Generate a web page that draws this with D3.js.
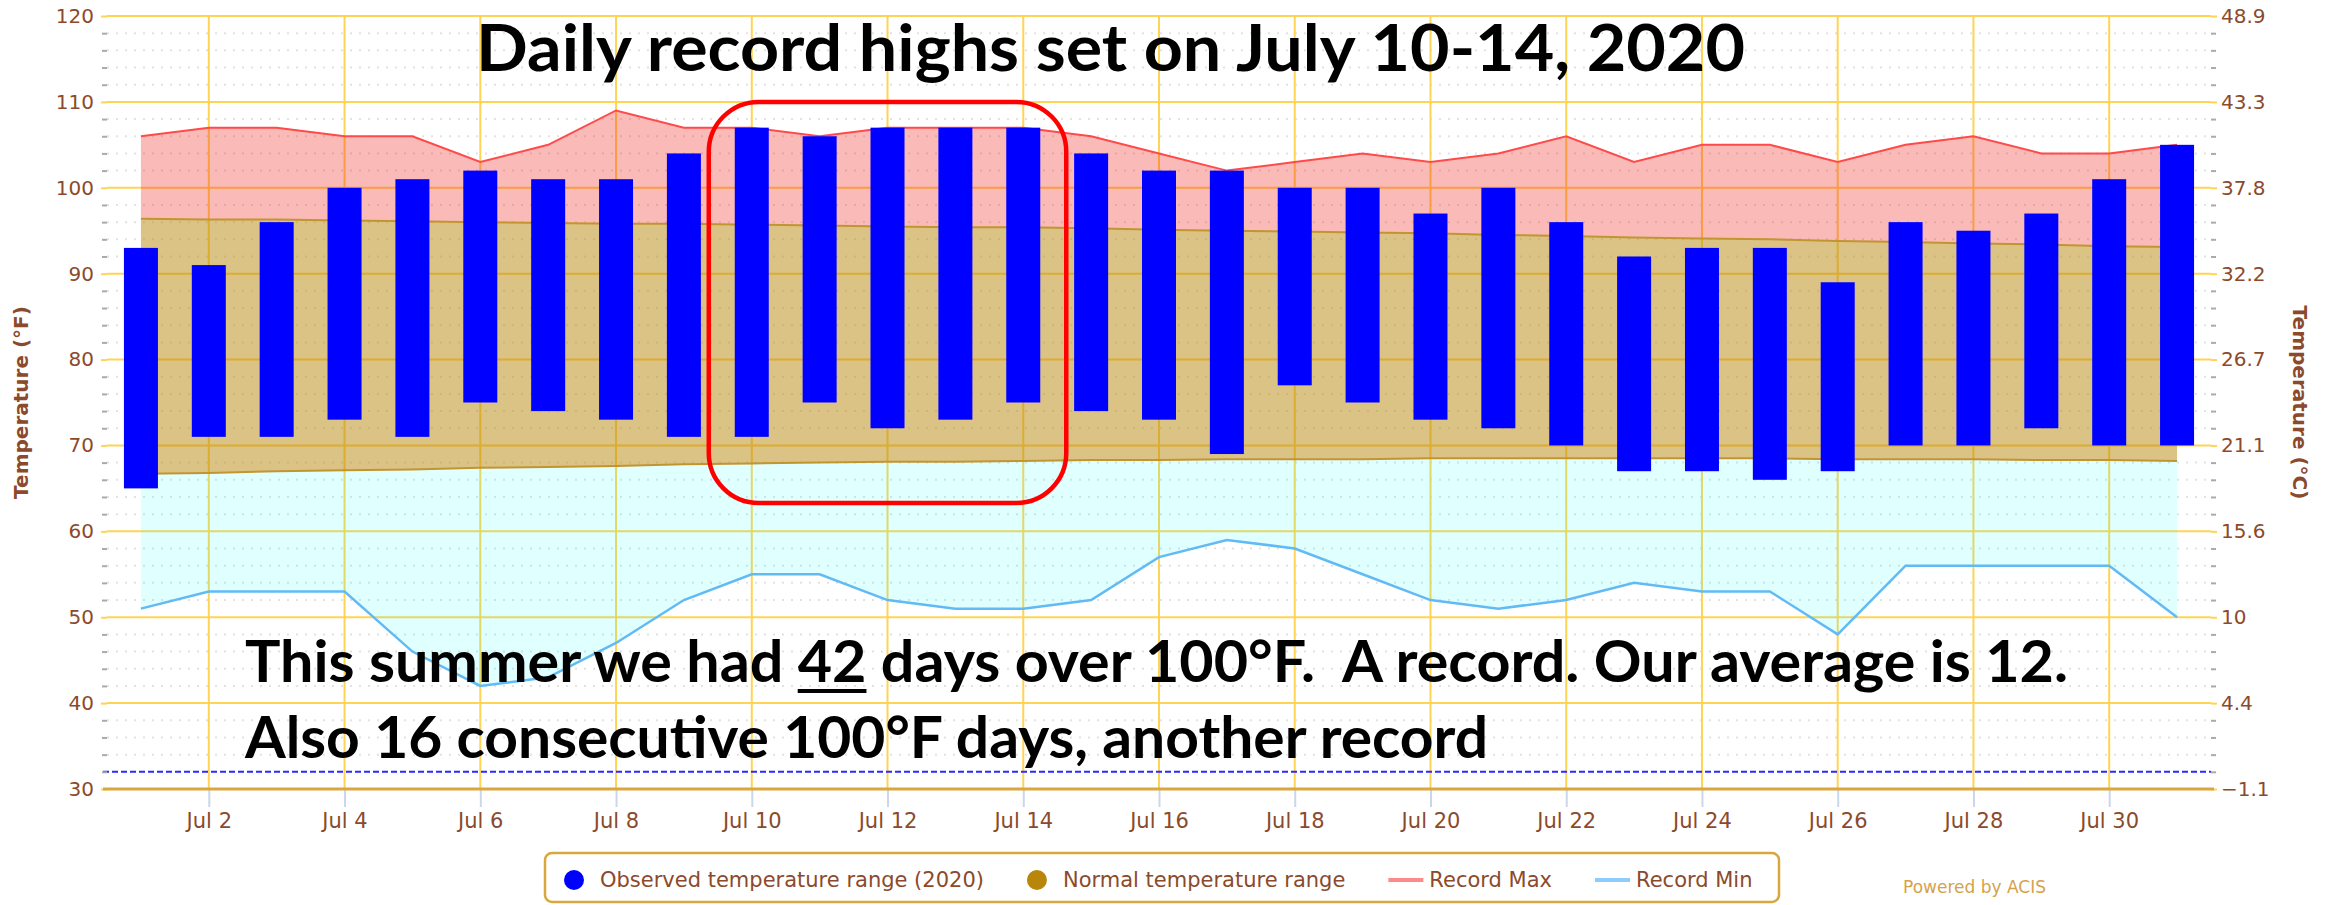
<!DOCTYPE html>
<html>
<head>
<meta charset="utf-8">
<script src="https://cdn.jsdelivr.net/npm/d3@7"></script>
<style>
  html, body { margin: 0; padding: 0; background: #fff; }
  svg { display: block; }
</style>
</head>
<body>
<svg id="chart"></svg>
<script>
// July 2020, one value per day
const days = [1, 2, 3, 4, 5, 6, 7, 8, 9, 10, 11, 12, 13, 14, 15, 16, 17, 18, 19, 20, 21, 22, 23, 24, 25, 26, 27, 28, 29, 30, 31]
const obsHigh = [93, 91, 96, 100, 101, 102, 101, 101, 104, 107, 106, 107, 107, 107, 104, 102, 102, 100, 100, 97, 100, 96, 92, 93, 93, 89, 96, 95, 97, 101, 105]
const obsLow = [65, 71, 71, 73, 71, 75, 74, 73, 71, 71, 75, 72, 73, 75, 74, 73, 69, 77, 75, 73, 72, 70, 67, 67, 66, 67, 70, 70, 72, 70, 70]
const normHigh = [96.4, 96.3, 96.3, 96.2, 96.1, 96.0, 95.9, 95.8, 95.8, 95.7, 95.6, 95.5, 95.4, 95.4, 95.3, 95.1, 95.0, 94.9, 94.8, 94.7, 94.5, 94.4, 94.2, 94.1, 94.0, 93.8, 93.7, 93.5, 93.4, 93.2, 93.1]
const normLow = [66.7, 66.8, 67.0, 67.1, 67.2, 67.4, 67.5, 67.6, 67.8, 67.9, 68.0, 68.1, 68.1, 68.2, 68.3, 68.3, 68.4, 68.4, 68.4, 68.5, 68.5, 68.5, 68.5, 68.5, 68.5, 68.4, 68.4, 68.4, 68.3, 68.3, 68.2]
const recMax = [106, 107, 107, 106, 106, 103, 105, 109, 107, 107, 106, 107, 107, 107, 106, 104, 102, 103, 104, 103, 104, 106, 103, 105, 105, 103, 105, 106, 104, 104, 105]
const recMin = [51, 53, 53, 53, 46, 42, 43, 47, 52, 55, 55, 52, 51, 51, 52, 57, 59, 58, 55, 52, 51, 52, 54, 53, 53, 48, 56, 56, 56, 56, 50]

const tickDays = [2, 4, 6, 8, 10, 12, 14, 16, 18, 20, 22, 24, 26, 28, 30]
const ticksF = [30, 40, 50, 60, 70, 80, 90, 100, 110, 120]
const freezing = 32
const recordDays = [10, 14]

const title = 'Daily record highs set on July 10-14, 2020'
const note1 = 'This summer we had 42 days over 100°F.  A record. Our average is 12.'
const note2 = 'Also 16 consecutive 100°F days, another record'
const legendItems = [
	{ label: 'Observed temperature range (2020)', kind: 'dot', color: '#0000ff' },
	{ label: 'Normal temperature range', kind: 'dot', color: '#b8860b' },
	{ label: 'Record Max', kind: 'line', color: '#ff8a8a' },
	{ label: 'Record Min', kind: 'line', color: '#8ccdfb' }
]

const brown = '#8b4a2b'
const gold = '#ffd454'
const axisGold = '#d9a73e'
const labelFont = 'DejaVu Sans, sans-serif'

const rows = days.map((d, i) => ({
	day: new Date(Date.UTC(2020, 6, d)),
	hi: obsHigh[i], lo: obsLow[i],
	nHi: normHigh[i], nLo: normLow[i],
	rMax: recMax[i], rMin: recMin[i]
}))
const dayDate = d => new Date(Date.UTC(2020, 6, d))

const svg = d3.select('#chart').attr('width', 2336).attr('height', 905)

// plot box
const pL = 107, pR = 2211, pT = 16, pB = 789

const x = d3.scaleUtc()
	.domain([new Date(Date.UTC(2020, 5, 30, 12)), new Date(Date.UTC(2020, 6, 31, 12))])
	.range([pL, pR])
const y = d3.scaleLinear().domain([30, 120]).range([pB, pT])
const yC = d3.scaleLinear().domain(y.domain().map(f => (f - 32) * 5 / 9)).range(y.range())

// minor grid every 2 degrees
const minorF = d3.range(30, 121, 2).filter(v => v % 10 !== 0)

let grid = svg.append('g')
grid.selectAll('.minor').data(minorF).enter().append('line')
	.attr('x1', pL).attr('x2', pR)
	.attr('y1', d => y(d)).attr('y2', d => y(d))
	.attr('stroke', '#e2e2e2').attr('stroke-width', 2)
	.attr('stroke-dasharray', '2,7')

grid.selectAll('.major').data(ticksF.filter(v => v !== 30)).enter().append('line')
	.attr('x1', pL).attr('x2', pR)
	.attr('y1', d => y(d)).attr('y2', d => y(d))
	.attr('stroke', gold).attr('stroke-width', 2)

grid.selectAll('.vgrid').data(tickDays).enter().append('line')
	.attr('x1', d => x(dayDate(d))).attr('x2', d => x(dayDate(d)))
	.attr('y1', pT).attr('y2', pB)
	.attr('stroke', gold).attr('stroke-width', 2)

// shaded ranges
const band = (lo, hi) => d3.area().x(d => x(d.day)).y0(d => y(lo(d))).y1(d => y(hi(d)))
const edge = acc => d3.line().x(d => x(d.day)).y(d => y(acc(d)))

svg.append('path').datum(rows)
	.attr('d', band(d => d.rMin, d => d.nLo))
	.attr('fill', 'rgb(0,255,255)').attr('fill-opacity', 0.12)
svg.append('path').datum(rows)
	.attr('d', band(d => d.nHi, d => d.rMax))
	.attr('fill', 'rgb(240,30,20)').attr('fill-opacity', 0.3)
svg.append('path').datum(rows)
	.attr('d', band(d => d.nLo, d => d.nHi))
	.attr('fill', '#b8860b').attr('fill-opacity', 0.5)

svg.append('path').datum(rows).attr('d', edge(d => d.nHi))
	.attr('fill', 'none').attr('stroke', '#c29530').attr('stroke-width', 2)
svg.append('path').datum(rows).attr('d', edge(d => d.nLo))
	.attr('fill', 'none').attr('stroke', '#c29530').attr('stroke-width', 2)
svg.append('path').datum(rows).attr('d', edge(d => d.rMax))
	.attr('fill', 'none').attr('stroke', '#ff4a4a').attr('stroke-width', 2)
svg.append('path').datum(rows).attr('d', edge(d => d.rMin))
	.attr('fill', 'none').attr('stroke', '#62baf5').attr('stroke-width', 2.5)

// freezing plot line
svg.append('line')
	.attr('x1', pL - 4).attr('x2', pR)
	.attr('y1', y(freezing)).attr('y2', y(freezing))
	.attr('stroke', '#2b2bff').attr('stroke-width', 2)
	.attr('stroke-dasharray', '6,3')

// axes
let axL = svg.append('g').attr('transform', `translate(${pL},0)`)
	.call(d3.axisLeft(y).tickValues(ticksF).tickSize(6).tickPadding(7))
let axLm = svg.append('g').attr('transform', `translate(${pL},0)`)
	.call(d3.axisLeft(y).tickValues(minorF).tickSize(5).tickFormat(''))
let axR = svg.append('g').attr('transform', `translate(${pR},0)`)
	.call(d3.axisRight(yC).tickValues(ticksF.map(f => (f - 32) * 5 / 9)).tickSize(6).tickPadding(4)
		.tickFormat(d3.format('.1~f')))
let axRm = svg.append('g').attr('transform', `translate(${pR},0)`)
	.call(d3.axisRight(yC).tickValues(minorF.map(f => (f - 32) * 5 / 9)).tickSize(5).tickFormat(''))
let axB = svg.append('g').attr('transform', `translate(0,${pB})`)
	.call(d3.axisBottom(x).tickValues(tickDays.map(dayDate)).tickSize(18).tickPadding(6)
		.tickFormat(d3.utcFormat('%b %-d')))

;[axL, axLm, axR, axRm, axB].forEach(a => a.select('.domain').remove())
;[axL, axR].forEach(a => a.selectAll('line').attr('stroke', gold).attr('stroke-width', 2))
;[axLm, axRm].forEach(a => a.selectAll('line').attr('stroke', '#aaa').attr('stroke-width', 2))
axB.selectAll('line').attr('stroke', '#ccd6eb').attr('stroke-width', 2)
;[axL, axR].forEach(a => a.selectAll('text')
	.attr('fill', brown).attr('font-family', labelFont).attr('font-size', 20))
axB.selectAll('text')
	.attr('fill', brown).attr('font-family', labelFont).attr('font-size', 21)

svg.append('line')
	.attr('x1', pL - 4).attr('x2', pR + 3)
	.attr('y1', y(30)).attr('y2', y(30))
	.attr('stroke', axisGold).attr('stroke-width', 3)

// observed daily ranges
svg.selectAll('.bar').data(rows).enter().append('rect')
	.attr('x', d => x(d.day) - 17)
	.attr('width', 34)
	.attr('y', d => y(d.hi))
	.attr('height', d => y(d.lo) - y(d.hi))
	.attr('fill', '#0000ff')

// axis titles
svg.append('text').text('Temperature (°F)')
	.attr('transform', `translate(28,${(pT + pB) / 2}) rotate(-90)`)
	.attr('text-anchor', 'middle').attr('font-family', labelFont)
	.attr('font-weight', 'bold').attr('font-size', 20).attr('fill', brown)
svg.append('text').text('Temperature (°C)')
	.attr('transform', `translate(2293,${(pT + pB) / 2}) rotate(90)`)
	.attr('text-anchor', 'middle').attr('font-family', labelFont)
	.attr('font-weight', 'bold').attr('font-size', 20).attr('fill', brown)

// annotations
svg.append('rect')
	.attr('x', x(dayDate(recordDays[0])) - 43)
	.attr('y', y(110))
	.attr('width', x(dayDate(recordDays[1])) - x(dayDate(recordDays[0])) + 86)
	.attr('height', y(63.3) - y(110))
	.attr('rx', 50)
	.attr('fill', 'none').attr('stroke', '#ff0000').attr('stroke-width', 4.5)

const bigText = (str, px, py, size, len) => svg.append('text').text(str)
	.attr('x', px).attr('y', py)
	.attr('font-family', 'Lato, sans-serif').attr('font-weight', 'bold')
	.attr('font-size', size).attr('fill', '#000')
	.attr('textLength', len).attr('lengthAdjust', 'spacingAndGlyphs')
	.style('white-space', 'pre')

bigText(title, 476, 71, 65, 1269)
let n1 = bigText(note1, 245, 682, 58, 1823)
bigText(note2, 245, 758, 58, 1243)

// underline "42"
let i42 = note1.indexOf('42')
let a = n1.node().getExtentOfChar(i42), b = n1.node().getExtentOfChar(i42 + 1)
svg.append('rect')
	.attr('x', a.x).attr('width', b.x + b.width - a.x)
	.attr('y', 689).attr('height', 4).attr('fill', '#000')

// legend
let lg = svg.append('g')
lg.append('rect')
	.attr('x', 545).attr('y', 853).attr('width', 1234).attr('height', 49).attr('rx', 7)
	.attr('fill', '#fff').attr('stroke', axisGold).attr('stroke-width', 2.5)

let cursor = 564
legendItems.forEach(it => {
	let tx
	if (it.kind === 'dot') {
		lg.append('circle').attr('cx', cursor + 10).attr('cy', 880).attr('r', 10).attr('fill', it.color)
		tx = cursor + 36
	} else {
		lg.append('line').attr('x1', cursor).attr('x2', cursor + 35)
			.attr('y1', 880).attr('y2', 880)
			.attr('stroke', it.color).attr('stroke-width', 4)
		tx = cursor + 41
	}
	let t = lg.append('text').text(it.label)
		.attr('x', tx).attr('y', 887)
		.attr('font-family', labelFont).attr('font-size', 21).attr('fill', brown)
	cursor = tx + t.node().getComputedTextLength() + 43
})

svg.append('text').text('Powered by ACIS')
	.attr('x', 1903).attr('y', 893)
	.attr('font-family', labelFont).attr('font-size', 17).attr('fill', '#d4a24c')
</script>
</body>
</html>
